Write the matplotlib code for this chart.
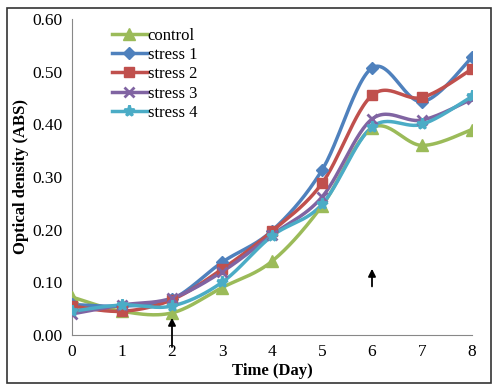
import numpy as np
import matplotlib
matplotlib.use("Agg")
import matplotlib.pyplot as plt
from matplotlib.patches import Rectangle

plt.rcParams["font.family"] = ["Liberation Serif", "DejaVu Serif"]

days = [0, 1, 2, 3, 4, 5, 6, 7, 8]
control = [0.072, 0.045, 0.042, 0.090, 0.140, 0.245, 0.393, 0.360, 0.390]
stress1 = [0.058, 0.055, 0.068, 0.138, 0.198, 0.313, 0.507, 0.443, 0.527]
stress2 = [0.055, 0.045, 0.067, 0.125, 0.197, 0.288, 0.455, 0.451, 0.505]
stress3 = [0.040, 0.057, 0.070, 0.120, 0.190, 0.262, 0.410, 0.408, 0.448]
stress4 = [0.045, 0.057, 0.055, 0.100, 0.188, 0.248, 0.395, 0.400, 0.453]
yticks = [0.0, 0.1, 0.2, 0.3, 0.4, 0.5, 0.6]

series = [
    ("control", control, "#9BBB59", "^", 8),
    ("stress 1", stress1, "#4F81BD", "D", 6),
    ("stress 2", stress2, "#C0504D", "s", 7),
    ("stress 3", stress3, "#8064A2", "x", 7),
    ("stress 4", stress4, "#4BACC6", "*", 8),
]


def smooth(x, y, n=30):
    # Excel-style smoothed line: cubic Bezier with Catmull-Rom control points
    x = np.asarray(x, float)
    y = np.asarray(y, float)
    px = np.concatenate([[x[0]], x, [x[-1]]])
    py = np.concatenate([[y[0]], y, [y[-1]]])
    xs, ys = [], []
    t = np.linspace(0, 1, n)
    for i in range(1, len(px) - 2):
        p0 = np.array([px[i], py[i]])
        p3 = np.array([px[i + 1], py[i + 1]])
        p1 = p0 + (np.array([px[i + 1], py[i + 1]]) - np.array([px[i - 1], py[i - 1]])) / 6
        p2 = p3 - (np.array([px[i + 2], py[i + 2]]) - np.array([px[i], py[i]])) / 6
        b = ((1 - t) ** 3)[:, None] * p0 + (3 * (1 - t) ** 2 * t)[:, None] * p1 \
            + (3 * (1 - t) * t ** 2)[:, None] * p2 + (t ** 3)[:, None] * p3
        xs.extend(b[:, 0])
        ys.extend(b[:, 1])
    return xs, ys


fig = plt.figure(figsize=(4.98, 3.91), dpi=100)
ax = fig.add_axes([72 / 498, 1 - 335 / 391, 400 / 498, 316 / 391])

for name, vals, color, mk, ms in series:
    sx, sy = smooth(days, vals)
    ax.plot(sx, sy, color=color, lw=2.5, zorder=2)
    mew = 2 if mk in ("x", "*") else 1
    ax.plot(days, vals, ls="none", marker=mk, color=color, ms=ms, mew=mew, zorder=3)
    ax.plot([], [], color=color, lw=2.5, marker=mk, ms=ms, mew=mew, label=name)

ax.annotate("", xy=(2, 0.038), xytext=(2, -0.028),
            arrowprops=dict(arrowstyle="-|>", color="black", lw=1.3, mutation_scale=11),
            annotation_clip=False)
ax.annotate("", xy=(6, 0.131), xytext=(6, 0.087),
            arrowprops=dict(arrowstyle="-|>", color="black", lw=1.3, mutation_scale=11))

ax.set_xlim(0, 8)
ax.set_ylim(0, 0.6)
ax.set_xticks(days)
ax.set_yticks(yticks)
ax.set_yticklabels([f"{v:.2f}" for v in yticks])
ax.tick_params(length=0, labelsize=12.5, pad=6.5)
for s in ("top", "right"):
    ax.spines[s].set_visible(False)
for s in ("left", "bottom"):
    ax.spines[s].set_color("#888888")
ax.spines["bottom"].set_bounds(0, 8)
ax.set_xlabel("Time (Day)", fontsize=12, fontweight="bold", labelpad=2)
ax.set_ylabel("Optical density (ABS)", fontsize=12, fontweight="bold", labelpad=3)

ax.legend(loc="upper left", bbox_to_anchor=(0.07, 1.01), frameon=False, fontsize=12,
          handlelength=2.1, handletextpad=0.05, labelspacing=0.2, borderpad=0.2)

fig.patches.append(Rectangle((7 / 498, 1 - 383 / 391), 484 / 498, 375 / 391,
                             transform=fig.transFigure, fill=False, edgecolor="#333333", lw=1.2))

fig.savefig("out.png", dpi=100)
